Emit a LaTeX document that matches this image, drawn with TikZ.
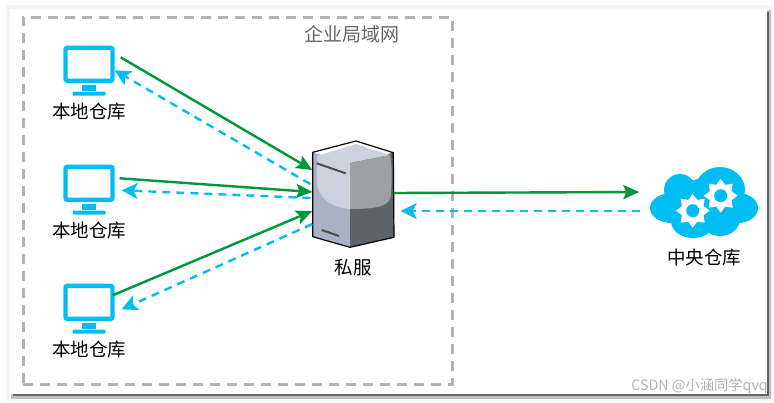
\documentclass[tikz,border=0pt]{standalone}
\usepackage{fontspec}
\setmainfont{Noto Sans CJK SC}
\usepackage{tikz}
\usetikzlibrary{positioning, arrows.meta, shapes.geometric}
\definecolor{linkgreen}{HTML}{00963C}
\definecolor{linkcyan}{HTML}{00BEF2}
\definecolor{framegray}{HTML}{B3B3B3}

\begin{document}
\begin{tikzpicture}[
        x=1pt, y=-1pt,
        node distance=0pt,
        screen/.style={rectangle, draw=linkcyan, fill=white, line width=4.4pt, rounded corners=2pt, minimum width=47pt, minimum height=33pt, inner sep=0pt},
        neck/.style={rectangle, fill=linkcyan, minimum width=14pt, minimum height=6pt, inner sep=0pt},
        base/.style={rectangle, fill=linkcyan, rounded corners=1pt, minimum width=33pt, minimum height=4pt, inner sep=0pt},
        caption/.style={font=\fontsize{18.5}{22}\selectfont, text=black, inner sep=0pt},
        gear/.style={star, star points=8, star point ratio=1.45, fill=white, minimum size=34pt, inner sep=0pt},
        hole/.style={circle, fill=linkcyan, minimum size=13pt, inner sep=0pt},
        arrow/.style={-{Stealth[length=16pt, width=14pt, inset=3pt]}, line width=2.4pt, draw=linkgreen},
        dashedarrow/.style={-{Stealth[length=16pt, width=16pt, inset=4pt]}, dash pattern=on 8pt off 6pt, line width=2.4pt, draw=linkcyan}
    ]

    % Page and card
    \useasboundingbox (0,0) rectangle (774,402);
    \fill[black!4] (6,5) rectangle (773,401);
    \fill[black!25] (11,10) rectangle (771,399);
    \fill[black!60] (13,12) rectangle (769,396);
    \fill[white] (10,9) rectangle (767,394);

    % LAN frame
    \node[draw=framegray, line width=3pt, dash pattern=on 10pt off 7pt, minimum width=429pt, minimum height=367pt, inner sep=0pt] (lan) at (237.5,200.5) {};
    \node[font=\fontsize{19}{22}\selectfont, text=black!60, inner sep=0pt] (lanname) at (352,34) {企业局域网};

    % Monitors
    \node[screen] (pc1) at (89,64.3) {};
    \node[neck, below=2pt of pc1] (neck1) {};
    \node[base, below=0pt of neck1] (base1) {};
    \node[caption, below=6.5pt of base1] (name1) {本地仓库};

    \node[screen] (pc2) at (89,183.3) {};
    \node[neck, below=2pt of pc2] (neck2) {};
    \node[base, below=0pt of neck2] (base2) {};
    \node[caption, below=6.5pt of base2] (name2) {本地仓库};

    \node[screen] (pc3) at (89,302.3) {};
    \node[neck, below=2pt of pc3] (neck3) {};
    \node[base, below=0pt of neck3] (base3) {};
    \node[caption, below=6.5pt of base3] (name3) {本地仓库};

    % Server
    \node[minimum width=81pt, minimum height=106pt, inner sep=0pt] (server) at (353,194) {};
    \begin{scope}[shift={(server.center)}]
        \fill[fill={rgb,255:red,169;green,178;blue,196}] (-40.3,-41.7) -- (-3,-31.3) -- (-3,53.3) -- (-40.3,42.7) -- cycle;
        \fill[fill={rgb,255:red,92;green,99;blue,105}] (-3,-31.3) -- (40.3,-41.3) -- (41,43.3) -- (-3,53.3) -- cycle;
        \fill[fill={rgb,255:red,205;green,209;blue,221}] (-36,-38) -- (3,-50) -- (37,-39) -- (-3,-31) -- (-3,15) .. controls (-20,14) and (-36,5) .. (-36,-14) -- cycle;
        \fill[fill={rgb,255:red,157;green,161;blue,163}] (-3,-31) -- (37,-39) .. controls (39,-30) and (39,-15) .. (38,0) .. controls (38,12) and (25,15) .. (-3,15) -- cycle;
        \draw[black!70, line width=2pt] (-36.3,-30.7) -- (-7.3,-20.7);
        \draw[black!70, line width=2pt] (-31.3,36) -- (-14,42);
        \draw[black, line width=1.2pt, line join=round] (3,-53) -- (40.3,-41.3) -- (41,43.3) -- (-3,53.3) -- (-40.3,42.7) -- (-40.3,-41.7) -- cycle;
    \end{scope}
    \node[caption, below=12pt of server] (servername) {私服};

    % Cloud
    \node[minimum width=107pt, minimum height=72pt, inner sep=0pt] (cloud) at (704,203) {};
    \begin{scope}[shift={(cloud.center)}]
        \fill[linkcyan] (-32,5) ellipse (22 and 15);
        \fill[linkcyan] (-24,-13) circle (16);
        \fill[linkcyan] (16,-13) ellipse (25 and 23);
        \fill[linkcyan] (34,5) ellipse (20 and 15);
        \fill[linkcyan] (-11,18) ellipse (22 and 17);
        \fill[linkcyan] (16,16) ellipse (20 and 17);
        \fill[linkcyan] (0,0) circle (25);
    \end{scope}
    \node[gear] (gear1) at (692.7,210.7) {};
    \node[hole] at (gear1.center) {};
    \node[gear] (gear2) at (720.7,195.7) {};
    \node[hole] at (gear2.center) {};
    \node[caption, below=10pt of cloud] (cloudname) {中央仓库};

    % Upload arrows
    \draw[arrow] ([shift={(6,-7)}]pc1.east) -- ([shift={(0,-24)}]server.west);
    \draw[arrow] ([shift={(5,-5)}]pc2.east) -- ([shift={(0,-2)}]server.west);
    \draw[arrow] ([shift={(-2,-7)}]pc3.east) -- ([shift={(0,17)}]server.west);
    \draw[arrow] ([shift={(0,-1)}]server.east) -- ([shift={(-11,-11)}]cloud.west);

    % Download arrows
    \draw[dashedarrow] ([shift={(-2,-10)}]server.west) -- ([shift={(0,6)}]pc1.east);
    \draw[dashedarrow] ([shift={(-2,4)}]server.west) -- ([shift={(7,7)}]pc2.east);
    \draw[dashedarrow] ([shift={(0,30)}]server.west) -- ([shift={(7,7)}]pc3.east);
    \draw[dashedarrow] ([shift={(-10,8)}]cloud.west) -- ([shift={(7,17)}]server.east);

    % Watermark
    \node[font=\fontsize{14.3}{16}\selectfont, text=black!30, anchor=east, inner sep=0pt] (mark) at (768,386) {CSDN @小涵同学qvq};
\end{tikzpicture}
\end{document}
